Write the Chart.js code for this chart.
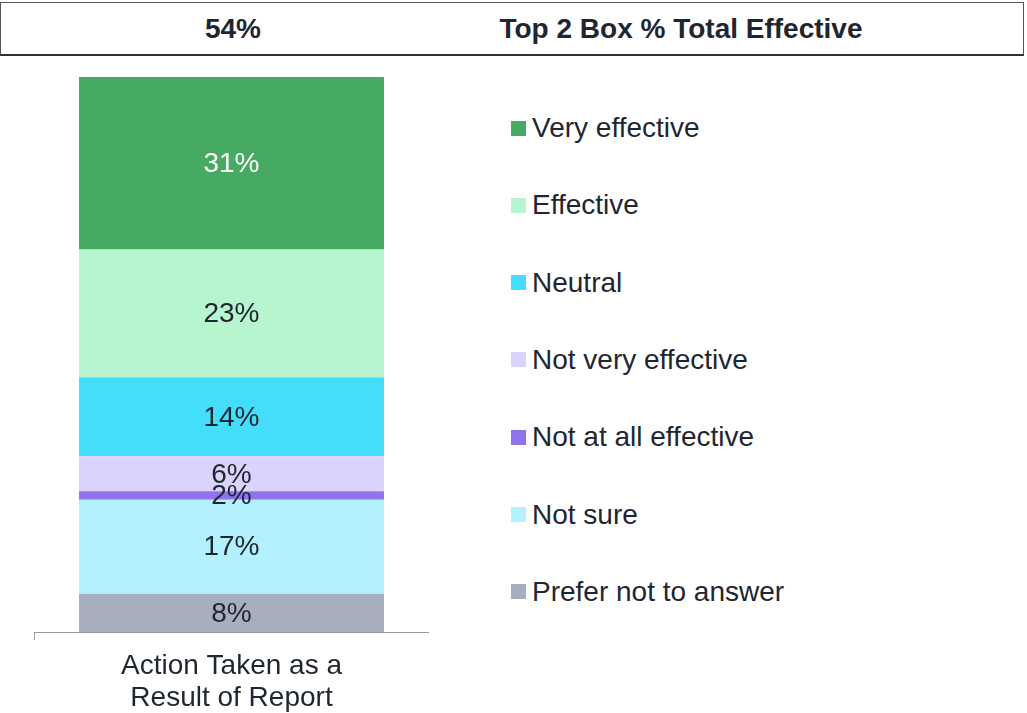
<!DOCTYPE html>
<html lang="en">

<head>
  <title>Top 2 Box % Total Effective</title>
  <meta charset="UTF-8">
  <script src="https://cdn.jsdelivr.net/npm/chart.js"></script>
  <style>
    body { margin: 0; background: #fff; font-family: "Liberation Sans", Arial, sans-serif; color: #1f2630; overflow: hidden; }
    .cabecalho {
      position: absolute; left: 0; top: 2px; width: 1022px; height: 51px;
      border: 1px solid #555; border-bottom: 2px solid #333;
      font-weight: bold; font-size: 28px;
    }
    .cabecalho span { position: absolute; top: 10px; line-height: 32px; transform: translateX(-50%); white-space: nowrap; }
    .container { position: absolute; left: 34px; top: 60px; width: 395px; height: 664px; }
    .legenda { position: absolute; left: 511px; top: 0; }
    .item { position: absolute; left: 0; white-space: nowrap; font-size: 28px; line-height: 32px; display: flex; align-items: center; }
    .item i { display: inline-block; width: 15px; height: 15px; margin-right: 6px; }
  </style>
</head>

<body>
  <div class="cabecalho">
    <span id="topBox" style="left: 232px;"></span>
    <span id="titulo" style="left: 680px;"></span>
  </div>
  <div class="container"><canvas id="chart"></canvas></div>
  <div class="legenda" id="legenda"></div>
</body>

<script>
  // dados (ordem de cima para baixo)
  const topBoxTexto = '54%';
  const tituloTexto = 'Top 2 Box % Total Effective';
  const categorias = [['Action Taken as a', 'Result of Report']];
  const series = ['Very effective', 'Effective', 'Neutral', 'Not very effective', 'Not at all effective', 'Not sure', 'Prefer not to answer'];
  const valores = [31, 23, 14.2, 6.3, 1.5, 16.9, 6.9];
  const rotulos = ['31%', '23%', '14%', '6%', '2%', '17%', '8%'];
  const cores = ['#46aa62', '#b6f5ce', '#45ddfc', '#dcd3fd', '#9272ea', '#b3f0fd', '#a7afbf'];
  const coresTexto = ['#ffffff', '#1f2630', '#1f2630', '#1f2630', '#1f2630', '#1f2630', '#1f2630'];

  document.getElementById('topBox').textContent = topBoxTexto;
  document.getElementById('titulo').textContent = tituloTexto;

  // legenda em html
  const legenda = document.getElementById('legenda');
  for (let i = 0; i < series.length; i++) {
    let item = document.createElement('div');
    item.className = 'item';
    item.style.top = (112 + i * 77.3) + 'px';
    item.innerHTML = '<i style="background:' + cores[i] + '"></i>' + series[i];
    legenda.appendChild(item);
  }

  // empilhado: primeiro dataset fica embaixo, entao inverte
  let datasets = [];
  for (let i = series.length - 1; i >= 0; i--) {
    datasets.push({
      label: series[i],
      data: [valores[i]],
      backgroundColor: cores[i],
      rotulo: rotulos[i],
      corRotulo: coresTexto[i],
      barPercentage: 0.772,
      categoryPercentage: 1
    });
  }

  const rotulosPlugin = {
    id: 'rotulos',
    afterDatasetsDraw(chart) {
      const ctx = chart.ctx;
      ctx.save();
      ctx.font = '28px "Liberation Sans", Arial, sans-serif';
      ctx.textAlign = 'center';
      ctx.textBaseline = 'middle';
      chart.data.datasets.forEach((ds, i) => {
        const bar = chart.getDatasetMeta(i).data[0];
        ctx.fillStyle = ds.corRotulo;
        ctx.fillText(ds.rotulo, bar.x, (bar.y + bar.base) / 2 + 1);
      });
      ctx.restore();
    }
  };

  new Chart(document.getElementById('chart'), {
    type: 'bar',
    data: { labels: categorias, datasets: datasets },
    options: {
      responsive: true,
      maintainAspectRatio: false,
      animation: false,
      layout: { padding: { top: 16, bottom: 0 } },
      plugins: { legend: { display: false }, tooltip: { enabled: false } },
      scales: {
        x: {
          stacked: true,
          grid: { drawOnChartArea: false, drawTicks: true, tickLength: 8, color: '#999' },
          border: { display: true, color: '#999' },
          ticks: {
            color: '#1f2630', padding: 10,
            font: { family: '"Liberation Sans", Arial, sans-serif', size: 28, lineHeight: '32px' }
          }
        },
        y: { stacked: true, display: false, min: 0, max: 100 }
      }
    },
    plugins: [rotulosPlugin]
  });
</script>

</html>
